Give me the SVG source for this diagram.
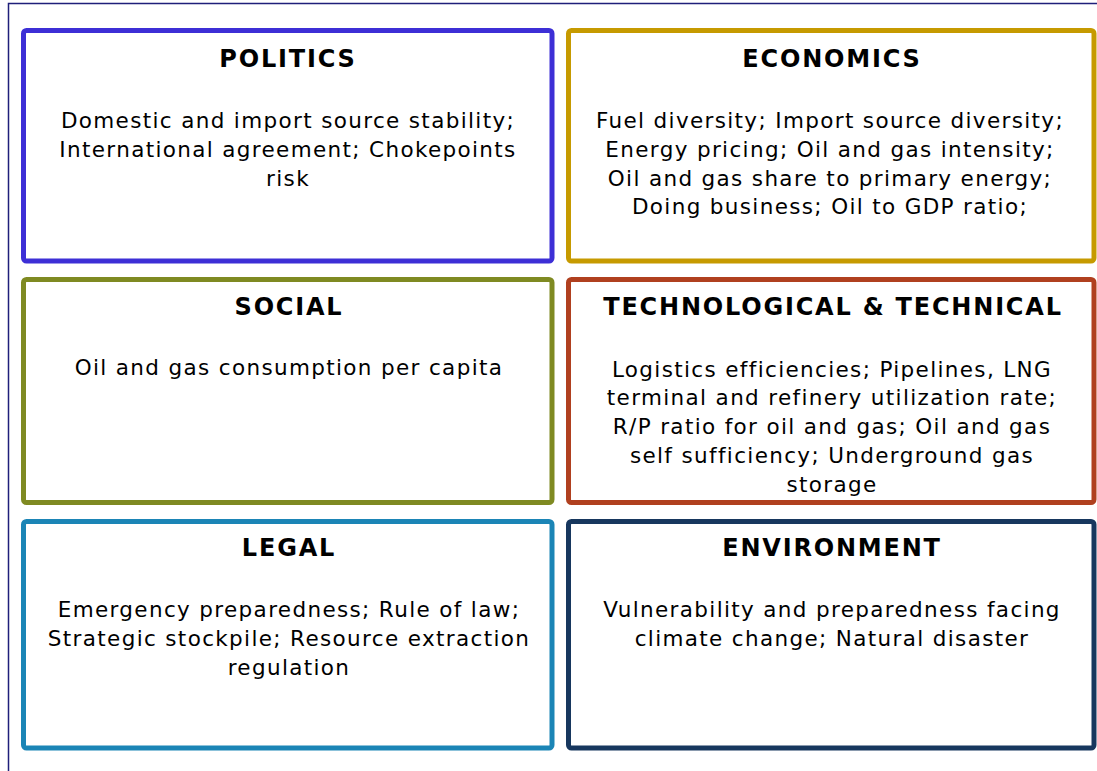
<svg xmlns="http://www.w3.org/2000/svg" width="1097" height="771" viewBox="0 0 1097 771">
<style>
.box{fill:#ffffff;stroke-width:5}
.t{font-family:"DejaVu Sans","Verdana",sans-serif;font-weight:bold;font-size:24px;fill:#000;text-anchor:middle;letter-spacing:1.8px}
.b{font-family:"DejaVu Sans","Verdana",sans-serif;font-size:21.5px;fill:#000;text-anchor:middle;letter-spacing:1.35px}
</style>
<rect x="0" y="0" width="1097" height="771" fill="#ffffff"/>
<rect x="8.5" y="3.5" width="1100" height="790" fill="none" stroke="#1f1f7a" stroke-width="1.5"/>
<g id="politics">
<rect class="box" x="23.5" y="30.5" width="528.5" height="230.5" rx="3" stroke="#3d2fd6"/>
<text class="t" x="288" y="67">POLITICS</text>
<text class="b" x="288" y="128">Domestic and import source stability;</text>
<text class="b" x="288" y="157">International agreement; Chokepoints</text>
<text class="b" x="288" y="186">risk</text>
</g>
<g id="economics">
<rect class="box" x="568.5" y="30.5" width="525.5" height="230.5" rx="3" stroke="#c69a00"/>
<text class="t" x="832" y="67">ECONOMICS</text>
<text class="b" x="830" y="128">Fuel diversity; Import source diversity;</text>
<text class="b" x="830" y="157">Energy pricing; Oil and gas intensity;</text>
<text class="b" x="830" y="186">Oil and gas share to primary energy;</text>
<text class="b" x="830" y="214">Doing business; Oil to GDP ratio;</text>
</g>
<g id="social">
<rect class="box" x="23.5" y="279.5" width="528.5" height="223" rx="3" stroke="#7f8a22"/>
<text class="t" x="289" y="315">SOCIAL</text>
<text class="b" x="289" y="375">Oil and gas consumption per capita</text>
</g>
<g id="technological">
<rect class="box" x="568.5" y="279.5" width="525.5" height="223" rx="3" stroke="#b0401f"/>
<text class="t" x="833" y="315">TECHNOLOGICAL &amp; TECHNICAL</text>
<text class="b" x="832" y="377">Logistics efficiencies; Pipelines, LNG</text>
<text class="b" x="832" y="405">terminal and refinery utilization rate;</text>
<text class="b" x="832" y="434">R/P ratio for oil and gas; Oil and gas</text>
<text class="b" x="832" y="463">self sufficiency; Underground gas</text>
<text class="b" x="832" y="492">storage</text>
</g>
<g id="legal">
<rect class="box" x="23.5" y="521.5" width="528.5" height="226.5" rx="3" stroke="#1b85b6"/>
<text class="t" x="289" y="556">LEGAL</text>
<text class="b" x="289" y="617">Emergency preparedness; Rule of law;</text>
<text class="b" x="289" y="646">Strategic stockpile; Resource extraction</text>
<text class="b" x="289" y="675">regulation</text>
</g>
<g id="environment">
<rect class="box" x="568.5" y="521.5" width="525.5" height="226.5" rx="3" stroke="#17375e"/>
<text class="t" x="832" y="556">ENVIRONMENT</text>
<text class="b" x="832" y="617">Vulnerability and preparedness facing</text>
<text class="b" x="832" y="646">climate change; Natural disaster</text>
</g>
<g id="connectors"></g>
</svg>
